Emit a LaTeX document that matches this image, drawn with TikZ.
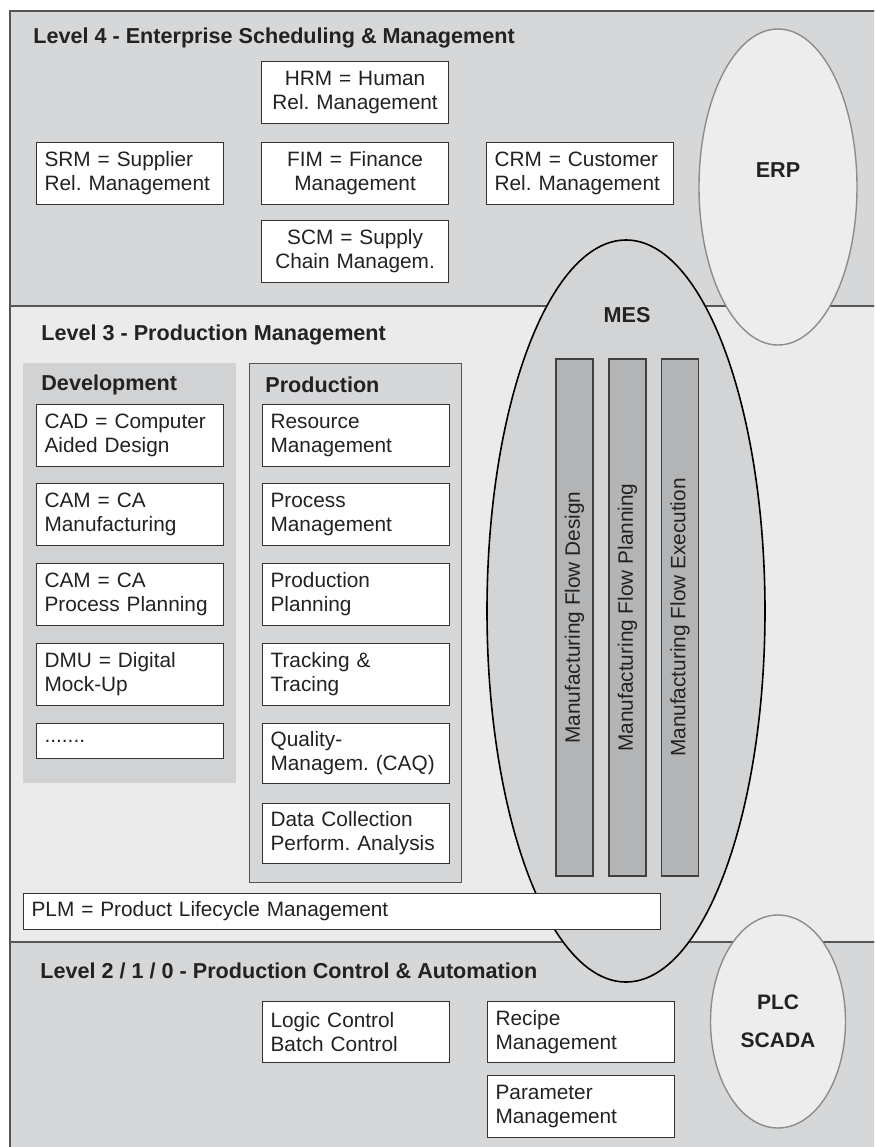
\documentclass[tikz,border=0pt]{standalone}
\usepackage{fontspec}
\setmainfont{Liberation Sans}
\usetikzlibrary{shapes.geometric}
\definecolor{bandgray}{HTML}{D6D7D9}
\definecolor{bandlight}{HTML}{EBEBEB}
\definecolor{devgray}{HTML}{D1D2D4}
\definecolor{mesgray}{HTML}{D3D4D6}
\definecolor{bargray}{HTML}{B3B4B6}
\definecolor{ovalfill}{HTML}{EDEDED}
\definecolor{ink}{HTML}{222222}
\definecolor{framegray}{HTML}{555555}
\newcommand{\boxfont}{\fontsize{10.4}{12}\selectfont\frenchspacing\hyphenpenalty=10000}
\newcommand{\headfont}{\fontsize{10.8}{12}\selectfont\bfseries}
\tikzset{
  mbox/.style={draw=black!80,fill=white,line width=0.6pt,anchor=north west,
    minimum width=93.5pt,minimum height=31pt,text width=85.5pt,
    inner xsep=4pt,inner ysep=0pt,align=left,font=\boxfont,text=ink},
  cbox/.style={mbox,align=center},
  level/.style={anchor=west,font=\headfont,text=ink,inner sep=0pt},
  oval/.style={ellipse,draw=black!45,fill=ovalfill,line width=0.7pt,inner sep=0pt,
    font=\headfont,text=ink,align=center},
  flowbar/.style={draw=black!75,fill=bargray,line width=0.6pt,rotate=90,
    minimum width=258.5pt,minimum height=18.5pt,inner sep=0pt,font=\boxfont,text=ink}
}

\begin{document}
\begin{tikzpicture}[x=0.5pt,y=-0.5pt]
  \clip (0,0) rectangle (874,1147);
  % the three levels
  \draw[framegray,line width=0.8pt,fill=bandgray] (10,11) rectangle (900,306);
  \draw[framegray,line width=0.8pt,fill=bandlight] (10,306) rectangle (900,942);
  \draw[framegray,line width=0.8pt,fill=bandgray] (10,942) rectangle (900,1170);
  \node[level] (l4) at (33,38) {Level 4 - Enterprise Scheduling \& Management};
  \node[level] (l3) at (41,335) {Level 3 - Production Management};
  \node[level] (l2) at (40,971) {Level 2 / 1 / 0 - Production Control \& Automation};

  % level 4
  \node[cbox] (hrm) at (261,61) {HRM = Human\\Rel. Management};
  \node[mbox] (srm) at (36,142) {SRM = Supplier\\Rel. Management};
  \node[cbox] (fim) at (261,142) {FIM = Finance\\Management};
  \node[mbox] (crm) at (486,142) {CRM = Customer\\Rel. Management};
  \node[cbox] (scm) at (261,220) {SCM = Supply\\Chain Managem.};
  \node[oval,minimum width=79pt,minimum height=158pt] (erp) at (778,187) {};
  \node[level,anchor=center] (erplbl) at (778,170) {ERP};

  % level 3
  \node[fill=devgray,anchor=north west,minimum width=106.5pt,minimum height=210pt,
    inner sep=0pt] (devpanel) at (23,363) {};
  \node[draw=framegray,line width=0.7pt,fill=bandgray,anchor=north west,
    minimum width=106pt,minimum height=259.5pt,inner sep=0pt] (prodpanel) at (249,363) {};
  \node[level] (devlbl) at (41,385) {Development};
  \node[level] (prodlbl) at (265,385) {Production};

  \node[mbox] (cad) at (36,404) {CAD = Computer\\Aided Design};
  \node[mbox] (cam) at (36,483) {CAM = CA\\Manufacturing};
  \node[mbox] (capp) at (36,563) {CAM = CA\\Process Planning};
  \node[mbox] (dmu) at (36,643) {DMU = Digital\\Mock-Up};
  \node[mbox,minimum height=17.5pt] (more) at (36,723) {.......};

  \node[mbox] (res) at (262,404) {Resource\\Management};
  \node[mbox] (proc) at (262,483) {Process\\Management};
  \node[mbox] (plan) at (262,563) {Production\\Planning};
  \node[mbox] (track) at (262,643) {Tracking \&\\Tracing};
  \node[mbox,minimum height=30pt] (caq) at (262,723) {Quality-\\Managem. (CAQ)};
  \node[mbox,minimum height=30pt] (data) at (262,803) {Data Collection\\Perform. Analysis};

  \node[ellipse,draw=black,fill=mesgray,line width=0.8pt,minimum width=139pt,
    minimum height=371pt,inner sep=0pt] (mes) at (626,611) {};
  \node[level,anchor=center] (meslbl) at (627,315) {MES};
  \node[flowbar] (design) at (574.5,617.5) {Manufacturing Flow Design};
  \node[flowbar] (planning) at (627.5,617.5) {Manufacturing Flow Planning};
  \node[flowbar] (execution) at (680,617.5) {Manufacturing Flow Execution};

  \node[mbox,minimum width=318.5pt,text width=310.5pt,minimum height=18pt] (plm)
    at (23,893) {PLM = Product Lifecycle Management};

  % level 2/1/0
  \node[mbox,minimum height=30.5pt] (logic) at (262,1001) {Logic Control\\Batch Control};
  \node[mbox,minimum height=30.5pt] (recipe) at (487,1001) {Recipe\\Management};
  \node[mbox] (param) at (487,1075) {Parameter\\Management};
  \node[oval,minimum width=67.5pt,minimum height=106.5pt,
    font=\fontsize{10.5}{19}\selectfont\bfseries] (plc) at (778,1021.5) {PLC\\SCADA};
\end{tikzpicture}
\end{document}
